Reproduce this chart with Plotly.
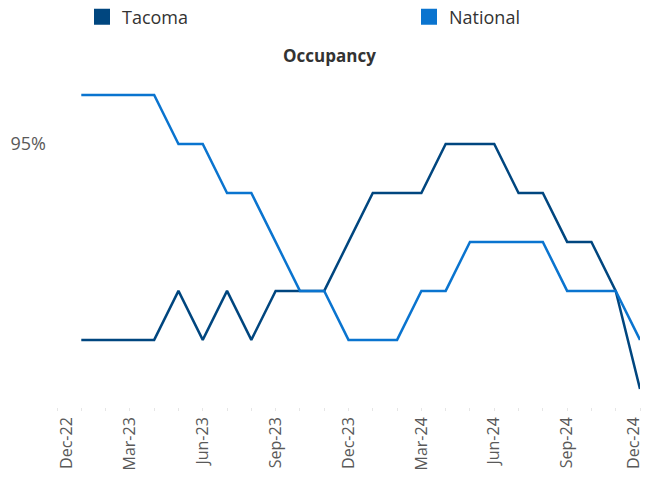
import plotly.graph_objects as go

month_labels = ["Jan-23", "Feb-23", "Mar-23", "Apr-23", "May-23", "Jun-23", "Jul-23", "Aug-23",
                "Sep-23", "Oct-23", "Nov-23", "Dec-23", "Jan-24", "Feb-24", "Mar-24", "Apr-24",
                "May-24", "Jun-24", "Jul-24", "Aug-24", "Sep-24", "Oct-24", "Nov-24", "Dec-24"]
tacoma = [94.6, 94.6, 94.6, 94.6, 94.7, 94.6, 94.7, 94.6, 94.7, 94.7, 94.7, 94.8,
          94.9, 94.9, 94.9, 95.0, 95.0, 95.0, 94.9, 94.9, 94.8, 94.8, 94.7, 94.5]
national = [95.1, 95.1, 95.1, 95.1, 95.0, 95.0, 94.9, 94.9, 94.8, 94.7, 94.7, 94.6,
            94.6, 94.6, 94.7, 94.7, 94.8, 94.8, 94.8, 94.8, 94.7, 94.7, 94.7, 94.6]
xtick_text = ["Dec-22", "Mar-23", "Jun-23", "Sep-23", "Dec-23", "Mar-24", "Jun-24", "Sep-24", "Dec-24"]
series_names = ["Tacoma", "National"]
colors = ["#00467F", "#0A74CF"]
ytick_vals = [95.0]
ytick_text = ["95%"]

font_family = "Open Sans, Lato, sans-serif"

# month index: Dec-22 = 0, Jan-23 = 1, ..., Dec-24 = 24
x_idx = list(range(1, len(month_labels) + 1))
xtick_vals = list(range(0, len(month_labels) + 1, 3))
xtick_vals[0] = 0.4    # end labels nudged inward so they stay on the page
xtick_vals[-1] = 23.75

fig = go.Figure()
for i, (name, vals, col) in enumerate(zip(series_names, [tacoma, national], colors)):
    fig.add_trace(go.Scatter(x=x_idx, y=vals, mode="lines", name=name,
                             customdata=month_labels,
                             line=dict(color=col, width=2.5), showlegend=False))
    fig.add_trace(go.Scatter(x=[None], y=[None], mode="markers", name=name,
                             marker=dict(symbol="square", size=17, color=col),
                             showlegend=True, legend="legend" if i == 0 else "legend2"))

legend_common = dict(orientation="h", xref="container", yref="container",
                     y=1 - 17 / 480, yanchor="middle", itemsizing="trace",
                     bgcolor="rgba(0,0,0,0)",
                     font=dict(size=18, color="#333333", family=font_family))

fig.update_layout(
    width=646, height=480,
    margin=dict(l=57, r=6, t=70, b=73, autoexpand=False),
    paper_bgcolor="white", plot_bgcolor="white",
    font=dict(family=font_family, color="#595959"),
    title=dict(text="<b>Occupancy</b>", x=0.51, xanchor="center",
               y=1 - 56 / 480, yanchor="middle", yref="container",
               font=dict(size=17, color="#333333", family=font_family)),
    legend=dict(x=82 / 646, xanchor="left", **legend_common),
    legend2=dict(x=409 / 646, xanchor="left", **legend_common),
    showlegend=True,
)
fig.update_xaxes(
    range=[0, 24], automargin=False,
    tickvals=xtick_vals, ticktext=xtick_text, ticklabeloverflow="allow",
    tickangle=-90, tickfont=dict(size=16, color="#595959"),
    ticks="", ticklabelstandoff=6,
    minor=dict(dtick=1, tick0=0, ticks="outside", ticklen=3, tickcolor="#e6e6e6"),
    showgrid=False, showline=False, zeroline=False,
)
fig.update_yaxes(
    range=[94.463, 95.151], automargin=False,
    tickvals=ytick_vals, ticktext=ytick_text, ticklabelstandoff=10,
    tickfont=dict(size=18, color="#595959"),
    showgrid=False, showline=False, zeroline=False,
)
fig.write_html("out.html", config={"displayModeBar": False},
               post_script="document.body.style.margin='0';document.body.style.overflow='hidden';")
